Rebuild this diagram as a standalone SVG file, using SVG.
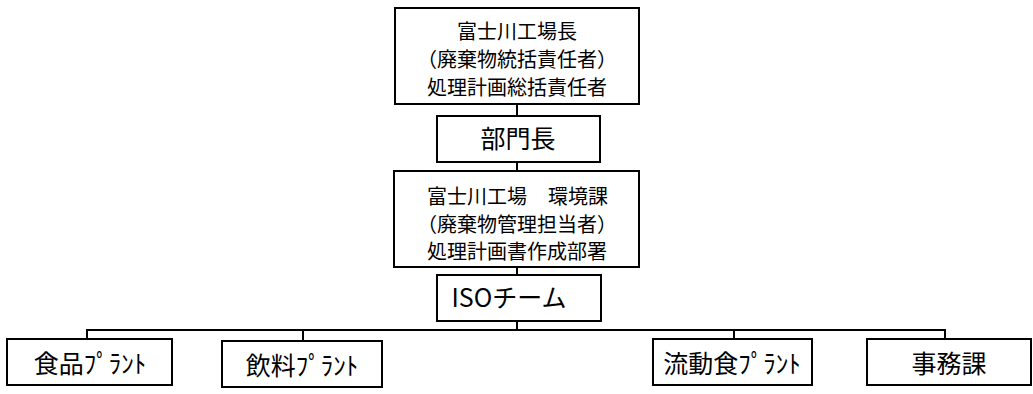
<svg xmlns="http://www.w3.org/2000/svg" width="1033" height="394" viewBox="0 0 1033 394">
<style>
.box{fill:#fff;stroke:#000;stroke-width:2}
.con{fill:none;stroke:#000;stroke-width:2}
text{font-family:"Noto Sans CJK JP","Noto Sans",sans-serif;fill:#000;text-anchor:middle}
.s{font-size:20px}
.l{font-size:25px}
</style>
<rect width="1033" height="394" fill="#fff"/>
<g id="connectors">
<line class="con" x1="517" y1="104" x2="517" y2="116"/>
<line class="con" x1="517" y1="162" x2="517" y2="171"/>
<line class="con" x1="517" y1="267" x2="517" y2="275"/>
<line class="con" x1="517" y1="321" x2="517" y2="330"/>
<line class="con" x1="86" y1="330" x2="946" y2="330"/>
<line class="con" x1="87" y1="330" x2="87" y2="339"/>
<line class="con" x1="303" y1="330" x2="303" y2="341"/>
<line class="con" x1="734" y1="330" x2="734" y2="339"/>
<line class="con" x1="945" y1="330" x2="945" y2="339"/>
</g>
<g id="plant-manager">
<rect class="box" x="395" y="8" width="244" height="96"/>
<text class="s" x="517" y="39">富士川工場長</text>
<text class="s" x="517" y="67">（廃棄物統括責任者）</text>
<text class="s" x="517" y="95">処理計画総括責任者</text>
</g>
<g id="dept-head">
<rect class="box" x="437" y="116" width="163" height="46"/>
<text class="l" x="518" y="148">部門長</text>
</g>
<g id="env-section">
<rect class="box" x="394" y="171" width="245" height="96"/>
<text class="s" x="477" y="204">富士川工場</text>
<text class="s" x="578" y="204">環境課</text>
<text class="s" x="517" y="232">（廃棄物管理担当者）</text>
<text class="s" x="517" y="259">処理計画書作成部署</text>
</g>
<g id="iso-team">
<rect class="box" x="437" y="275" width="164" height="46"/>
<text class="l" x="509" y="307">ISOチーム</text>
</g>
<g id="food-plant">
<rect class="box" x="7" y="339" width="165" height="46"/>
<text class="l" x="90" y="373">食品ﾌﾟﾗﾝﾄ</text>
</g>
<g id="beverage-plant">
<rect class="box" x="222" y="341" width="160" height="46"/>
<text class="l" x="302" y="375">飲料ﾌﾟﾗﾝﾄ</text>
</g>
<g id="liquid-food-plant">
<rect class="box" x="653" y="339" width="159" height="46"/>
<text class="l" x="732" y="373">流動食ﾌﾟﾗﾝﾄ</text>
</g>
<g id="admin-section">
<rect class="box" x="867" y="339" width="164" height="46"/>
<text class="l" x="949" y="373">事務課</text>
</g>
</svg>
